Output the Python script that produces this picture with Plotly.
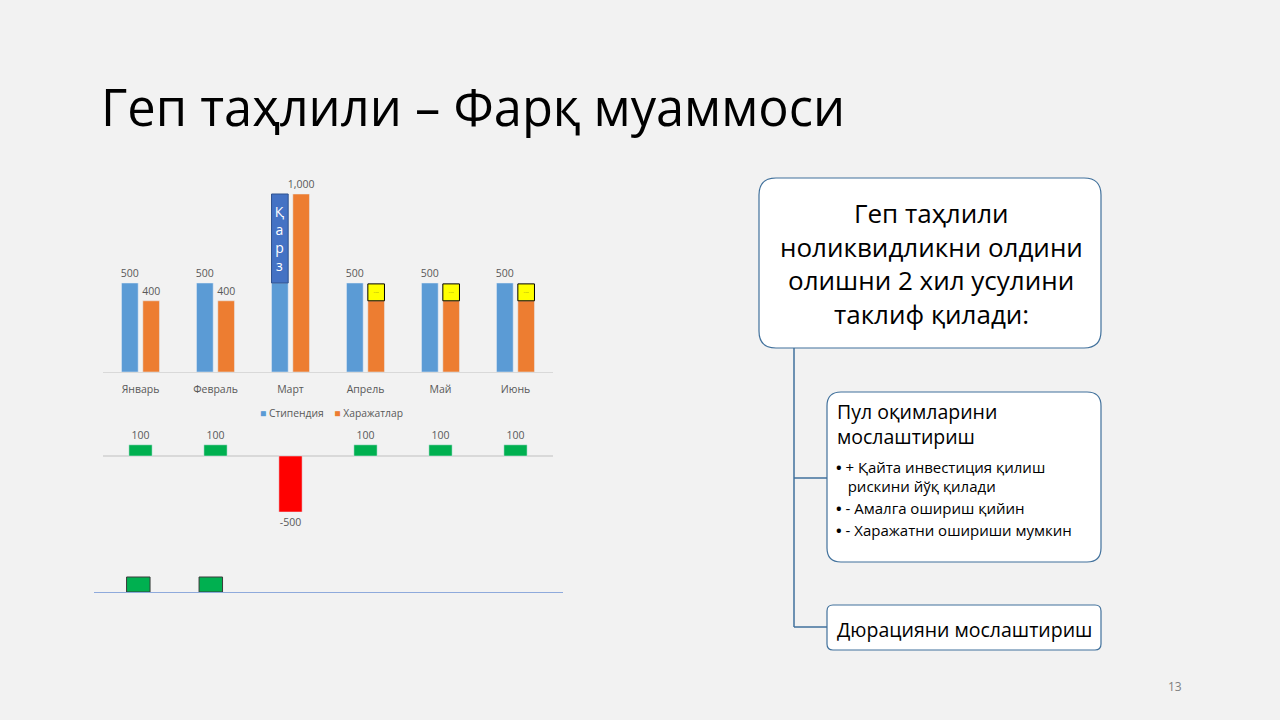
import plotly.graph_objects as go

# ---------------- data ----------------
months = ["Январь", "Февраль", "Март", "Апрель", "Май", "Июнь"]
series_names = ["Стипендия", "Харажатлар"]
stipend = [500, 500, 500, 500, 500, 500]
stipend_text = ["500", "500", "", "500", "500", "500"]
expenses = [400, 400, 1000, 400, 400, 400]
expenses_text = ["400", "400", "1,000", "", "", ""]
loan_base = [None, None, 500, None, None, None]
loan = [None, None, 500, None, None, None]
loan_text = ["", "", "Қ<br>а<br>р<br>з", "", "", ""]
note_base = [None, None, None, 400, 400, 400]
note = [None, None, None, 95, 95, 95]
gap = [100, 100, -500, 100, 100, 100]
gap_text = ["100", "100", "-500", "100", "100", "100"]
reserve = [100, 100, None, None, None, None]

title_text = "Геп таҳлили – Фарқ муаммоси"
box1_lines = ["Геп таҳлили", "ноликвидликни олдини", "олишни 2 хил усулини", "таклиф қилади:"]
box2_head = ["Пул оқимларини", "мослаштириш"]
box2_bullets = ["<b>•</b> + Қайта инвестиция қилиш", "   рискини йўқ қилади", "<b>•</b> - Амалга ошириш қийин", "<b>•</b> - Харажатни ошириши мумкин"]
box3_text = "Дюрацияни мослаштириш"
page_no = "13"

W, H = 1280, 720
BG = "#F2F2F2"
FONT = "Open Sans"
GRAY = "#595959"
C_STIP = "#5B9BD5"
C_EXP = "#ED7D31"

def px(x):
    return x / W

def py(y):
    return 1 - y / H

fig = go.Figure()

# ---------- top chart ----------
fig.add_trace(go.Bar(x=months, y=stipend, name=series_names[0], marker_color=C_STIP,
                     offset=-0.253, width=0.222, text=stipend_text, textposition="outside",
                     constraintext="none",
                     textfont=dict(size=10.5, color=GRAY), cliponaxis=False,
                     xaxis="x", yaxis="y"))
fig.add_trace(go.Bar(x=months, y=expenses, name=series_names[1], marker_color=C_EXP,
                     offset=0.031, width=0.222, text=expenses_text, textposition="outside",
                     constraintext="none",
                     textfont=dict(size=10.5, color=GRAY), cliponaxis=False,
                     xaxis="x", yaxis="y"))
fig.add_trace(go.Bar(x=months, y=loan, base=loan_base, showlegend=False,
                     marker=dict(color="#4472C4", line=dict(color="#2F528F", width=1)),
                     offset=-0.253, width=0.222,
                     text=loan_text, textposition="inside",
                     insidetextanchor="middle", textangle=0, constraintext="none",
                     insidetextfont=dict(size=14, color="white"),
                     xaxis="x", yaxis="y", hoverinfo="skip"))
fig.add_trace(go.Bar(x=months, y=note, base=note_base, showlegend=False,
                     marker=dict(color="#FFFF00", line=dict(color="#000000", width=1)),
                     offset=0.031, width=0.222,
                     text=["", "", "", "·····", "·····", "·····"], textposition="inside",
                     insidetextanchor="middle", textangle=0,
                     insidetextfont=dict(size=4, color="#333333"),
                     xaxis="x", yaxis="y", hoverinfo="skip"))

# ---------- gap chart ----------
gap_colors = ["#00B050" if v >= 0 else "#FF0000" for v in gap]
fig.add_trace(go.Bar(x=months, y=gap, marker_color=gap_colors, width=0.31,
                     text=gap_text, textposition="outside", cliponaxis=False,
                     constraintext="none",
                     textfont=dict(size=10.5, color=GRAY), showlegend=False,
                     xaxis="x2", yaxis="y2"))

# ---------- reserve chart ----------
fig.add_trace(go.Bar(x=months, y=reserve, width=0.324, showlegend=False,
                     marker=dict(color="#00B050", line=dict(color="#3A3A3A", width=1)),
                     xaxis="x3", yaxis="y3"))

fig.update_layout(
    width=W, height=H,
    paper_bgcolor=BG, plot_bgcolor="rgba(0,0,0,0)",
    margin=dict(l=0, r=0, t=0, b=0),
    barmode="overlay",
    font=dict(family=FONT, color=GRAY),
    showlegend=False,
    xaxis=dict(domain=[px(103), px(553)], range=[-0.5, 5.5], showline=True,
               linecolor="#D9D9D9", linewidth=1, showgrid=False, ticks="",
               ticklabelstandoff=7,
               tickfont=dict(size=10.5, color=GRAY), anchor="y", automargin=False),
    yaxis=dict(domain=[py(372), py(190)], range=[0, (372 - 190) / 0.178], visible=False,
               anchor="x"),
    xaxis2=dict(domain=[px(103), px(553)], range=[-0.5, 5.5], visible=False, anchor="y2"),
    yaxis2=dict(domain=[py(530), py(436)], range=[-(530 - 456) / 0.112, (456 - 436) / 0.112],
                showgrid=False, showticklabels=False, zeroline=True,
                zerolinecolor="#D9D9D9", zerolinewidth=2, anchor="x2"),
    xaxis3=dict(domain=[px(94), px(563)], range=[-0.611, 5.858], showline=True,
                linecolor="#8FAADC", linewidth=1, showticklabels=False, ticks="",
                showgrid=False, anchor="y3"),
    yaxis3=dict(domain=[py(592), py(560)], range=[0, 32 / 0.15], visible=False, anchor="x3"),
)

# ---------- slide text ----------
ann = []
ann.append(dict(text=title_text, x=px(99), y=py(106), xref="paper", yref="paper",
                xanchor="left", yanchor="middle", showarrow=False,
                font=dict(family=FONT, size=50.6, color="#000000")))
legend_text = (f"<span style='color:{C_STIP}'>■</span> {series_names[0]}    "
               f"<span style='color:{C_EXP}'>■</span> {series_names[1]}")
ann.append(dict(text=legend_text, x=px(331), y=py(413), xref="paper", yref="paper",
                xanchor="center", yanchor="middle", showarrow=False,
                font=dict(family=FONT, size=10.3, color=GRAY)))

def rounded(x0, y0, x1, y1, r):
    X0, X1 = px(x0), px(x1)
    Y0, Y1 = py(y0), py(y1)
    rx, ry = r / W, r / H
    return (f"M {X0+rx},{Y0} L {X1-rx},{Y0} Q {X1},{Y0} {X1},{Y0-ry} "
            f"L {X1},{Y1+ry} Q {X1},{Y1} {X1-rx},{Y1} L {X0+rx},{Y1} "
            f"Q {X0},{Y1} {X0},{Y1+ry} L {X0},{Y0-ry} Q {X0},{Y0} {X0+rx},{Y0} Z")

shapes = []
LINE = "#41719C"
shapes.append(dict(type="line", xref="paper", yref="paper", x0=px(794), x1=px(794),
                   y0=py(348), y1=py(627), line=dict(color=LINE, width=1.5)))
shapes.append(dict(type="line", xref="paper", yref="paper", x0=px(794), x1=px(827),
                   y0=py(478), y1=py(478), line=dict(color=LINE, width=1.5)))
shapes.append(dict(type="line", xref="paper", yref="paper", x0=px(794), x1=px(827),
                   y0=py(627), y1=py(627), line=dict(color=LINE, width=1.5)))
for (x0, y0, x1, y1, r) in [(759, 178, 1101, 348, 17), (827, 392, 1101, 562, 14), (827, 605, 1101, 650, 6)]:
    shapes.append(dict(type="path", xref="paper", yref="paper", path=rounded(x0, y0, x1, y1, r),
                       fillcolor="#FFFFFF", line=dict(color=LINE, width=1.2)))

for i, t in enumerate(box1_lines):
    ann.append(dict(text=t, x=px(931), y=py(213 + i * 33.5), xref="paper", yref="paper",
                    xanchor="center", yanchor="middle", showarrow=False,
                    font=dict(family=FONT, size=26, color="#000000")))
for i, t in enumerate(box2_head):
    ann.append(dict(text=t, x=px(835), y=py(411 + i * 26), xref="paper", yref="paper",
                    xanchor="left", yanchor="middle", showarrow=False,
                    font=dict(family=FONT, size=19.5, color="#000000")))
for t, yy in zip(box2_bullets, [467, 486, 508, 530]):
    ann.append(dict(text=t, x=px(834), y=py(yy), xref="paper", yref="paper",
                    xanchor="left", yanchor="middle", showarrow=False,
                    font=dict(family=FONT, size=15, color="#000000")))
ann.append(dict(text=box3_text, x=px(835), y=py(629), xref="paper", yref="paper",
                xanchor="left", yanchor="middle", showarrow=False,
                font=dict(family=FONT, size=19.5, color="#000000")))
ann.append(dict(text=page_no, x=px(1175), y=py(686), xref="paper", yref="paper",
                xanchor="center", yanchor="middle", showarrow=False,
                font=dict(family=FONT, size=12, color="#808080")))

fig.update_layout(annotations=ann, shapes=shapes)
fig.write_html("out.html", config={"displayModeBar": False},
               post_script="document.body.style.margin='0';document.body.style.overflow='hidden';")
